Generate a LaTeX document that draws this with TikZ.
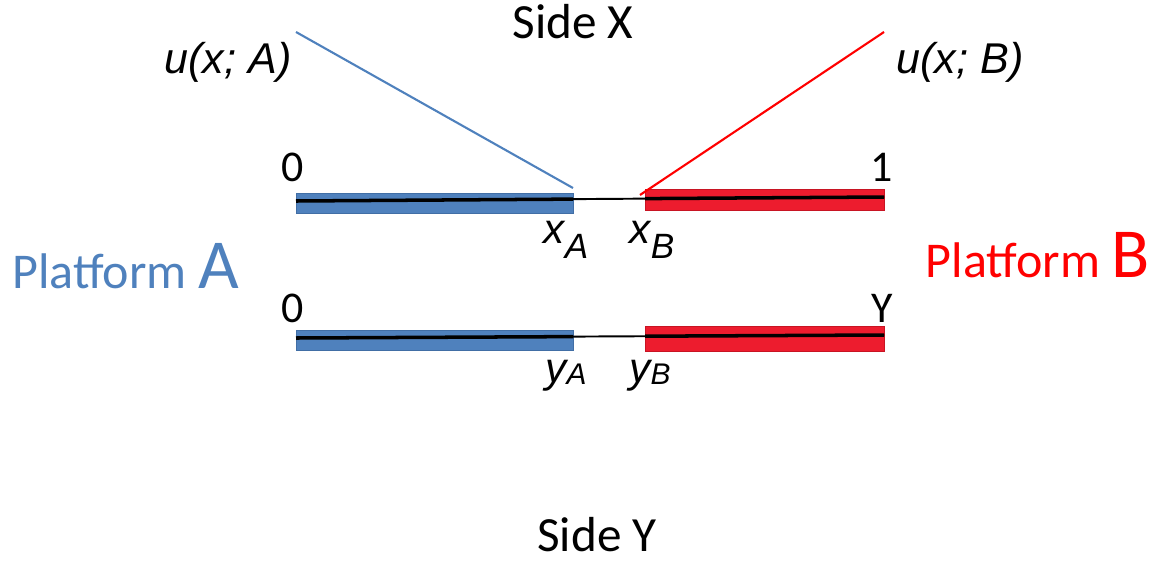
\documentclass[tikz,border=0pt]{standalone}
\usepackage{fontspec}
\setmainfont{Carlito}
\newfontfamily\mathsans{Liberation Sans}
\definecolor{pblue}{RGB}{79,129,189}
\definecolor{pbluedark}{RGB}{65,110,165}
\definecolor{pred}{RGB}{237,28,46}
\definecolor{preddark}{RGB}{200,20,35}
\begin{document}
\begin{tikzpicture}[x=0.02cm,y=-0.02cm,
  bluebar/.style={fill=pblue,draw=pbluedark,line width=0.5pt},
  redbar/.style={fill=pred,draw=preddark,line width=0.5pt},
  axisline/.style={black,line width=1.1pt},
  axisthick/.style={black,line width=2pt},
  txt/.style={inner sep=0pt,font=\fontsize{28}{30}\selectfont},
  num/.style={inner sep=0pt,font=\fontsize{25}{27}\selectfont},
  ulab/.style={inner sep=0pt,font=\mathsans\itshape\fontsize{24.5}{26}\selectfont},
  sublab/.style={inner sep=0pt,font=\mathsans\itshape\fontsize{24}{26}\selectfont}]
\useasboundingbox (0,0) rectangle (1159,562);
% titles
\node[txt] (sidex) at (573,22) {Side X};
\node[txt] (sidey) at (597,535) {Side Y};
% platform labels
\node[inner sep=0pt,text=pblue,anchor=base west] (platA) at (12,288) {\fontsize{28.5}{30}\selectfont Platform \fontsize{40}{42}\selectfont A};
\node[inner sep=0pt,text=red,anchor=base east] (platB) at (1150,277) {\fontsize{28.5}{30}\selectfont Platform \fontsize{40}{42}\selectfont B};
% top bar
\node[bluebar,minimum width=277*0.02cm,minimum height=20*0.02cm,inner sep=0pt,anchor=north west] (topA) at (296,193) {};
\node[redbar,minimum width=239*0.02cm,minimum height=21*0.02cm,inner sep=0pt,anchor=north west] (topB) at (645,189) {};
\coordinate (tl) at (296,201);
\coordinate (tr) at (884,197);
\coordinate (tma) at (573,199.1);
\coordinate (tmb) at (645,198.6);
\draw[axisline] (tl) -- (tr);
\draw[axisthick] (tl) -- (tma);
\draw[axisthick] (tmb) -- (tr);
% bottom bar
\node[bluebar,minimum width=277*0.02cm,minimum height=20*0.02cm,inner sep=0pt,anchor=north west] (botA) at (296,330) {};
\node[redbar,minimum width=239*0.02cm,minimum height=25*0.02cm,inner sep=0pt,anchor=north west] (botB) at (645,326) {};
\coordinate (bl) at (296,338);
\coordinate (br) at (884,335);
\coordinate (bma) at (573,336.6);
\coordinate (bmb) at (645,336.2);
\draw[axisline] (bl) -- (br);
\draw[axisthick] (bl) -- (bma);
\draw[axisthick] (bmb) -- (br);
% numbers
\node[num] (t0) at (293,167) {0};
\node[num] (t1) at (882,167) {1};
\node[num] (b0) at (293,308) {0};
\node[num] (bY) at (882,308) {Y};
% subscripts
\node[sublab] (xA) at (566,240) {x\raisebox{-0.35em}{\fontsize{20}{22}\selectfont A}};
\node[sublab] (xB) at (652,240) {x\raisebox{-0.35em}{\fontsize{20}{22}\selectfont B}};
\node[sublab] (yA) at (566,376) {y\raisebox{-0.05em}{\fontsize{17}{19}\selectfont A}};
\node[sublab] (yB) at (650,376) {y\raisebox{-0.05em}{\fontsize{17}{19}\selectfont B}};
% utility labels and lines
\node[ulab] (uA) at (228,62) {u(x; A)};
\node[ulab] (uB) at (960,62) {u(x; B)};
\coordinate (uAs) at (296,32);
\coordinate (uAe) at (573,188);
\coordinate (uBs) at (884,32);
\coordinate (uBe) at (640,195);
\draw[pblue,line width=1.2pt] (uAs) -- (uAe);
\draw[red,line width=1.2pt] (uBs) -- (uBe);
\end{tikzpicture}
\end{document}
